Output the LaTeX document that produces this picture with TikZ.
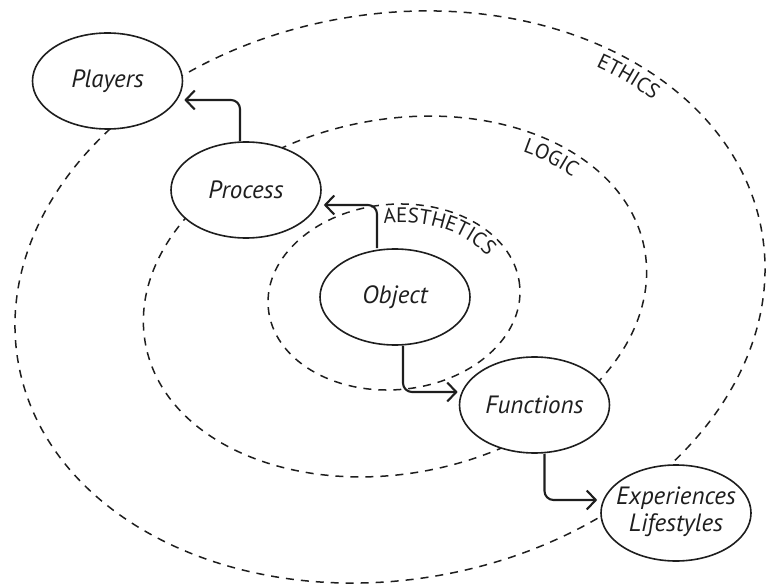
\documentclass[tikz,border=0pt]{standalone}
\usepackage{fontspec}
\setmainfont{PT Sans}
\newfontfamily\ringfont[LetterSpace=9]{PT Sans}
\usetikzlibrary{shapes.geometric, arrows.meta, decorations.text}
\definecolor{ink}{HTML}{1E1E1E}
\newcommand{\ringstyle}{\ringfont\fontsize{21}{24}\selectfont\color{ink}}
\begin{document}
\begin{tikzpicture}[x=1pt, y=1pt,
  stage/.style={ellipse, draw=ink, line width=1.6pt, fill=white,
    minimum width=150pt, minimum height=96pt, inner sep=0pt,
    font=\fontsize{25}{27}\selectfont\itshape, text=ink},
  ring/.style={draw=ink, line width=1.5pt, dash pattern=on 8pt off 7pt},
  flow/.style={draw=ink, line width=2.1pt, rounded corners=9pt,
    -{Straight Barb[length=9pt, width=19pt]}}
]
\useasboundingbox (0,0) rectangle (766,-588);

% three nested dashed rings
\draw[ring, rotate around={10:(390,-297)}] (390,-297) ellipse [x radius=377.5, y radius=282.7];
\draw[ring, rotate around={11:(395,-296.5)}] (395,-296.5) ellipse [x radius=254, y radius=177];
\draw[ring, rotate around={5:(394,-297)}] (394,-297) ellipse [x radius=126.2, y radius=92.7];

% ring names set along the inside of each ring
\path[rotate around={10:(390,-297)}, decorate,
  decoration={text along path, text={|\ringstyle|ETHICS}}]
  (390,-297) ++(47:356 and 261)
  arc[start angle=47, end angle=-10, x radius=356, y radius=261];
\path[rotate around={11:(395,-296.5)}, decorate,
  decoration={text along path, text={|\ringstyle|LOGIC}}]
  (395,-296.5) ++(49:233 and 156)
  arc[start angle=49, end angle=-10, x radius=233, y radius=156];
\path[rotate around={5:(394,-297)}, decorate,
  decoration={text along path, text={|\ringstyle|AESTHETICS}}]
  (394,-297) ++(92:107 and 74)
  arc[start angle=92, end angle=-20, x radius=107, y radius=74];

% stages
\node[stage] (players) at (107.5,-81) {Players};
\node[stage] (process) at (246,-190) {Process};
\node[stage] (object) at (395,-297) {Object};
\node[stage] (functions) at (534.5,-405) {Functions};
\node[stage] (experiences) at (676,-513)
  {\makebox[0pt]{\begin{tabular}{@{}c@{}}Experiences\\Lifestyles\end{tabular}}};

% flows between stages
\draw[flow] ([xshift=-18pt]object.north) |- ([shift={(2pt,-15pt)}]process.east);
\draw[flow] ([xshift=-6pt]process.north) |- ([shift={(1pt,-19pt)}]players.east);
\draw[flow] ([xshift=8pt]object.south) |- ([shift={(-1pt,13pt)}]functions.west);
\draw[flow] ([xshift=10pt]functions.south) |- ([shift={(-3pt,13pt)}]experiences.west);
\end{tikzpicture}
\end{document}
